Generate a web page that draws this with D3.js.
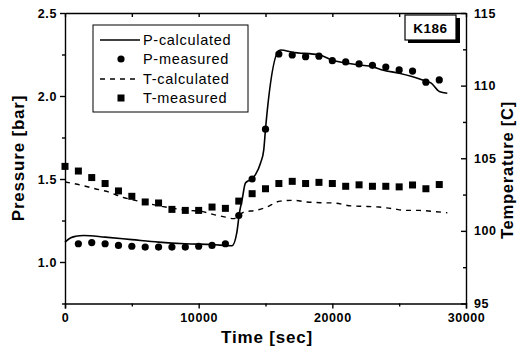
<!DOCTYPE html>
<html><head><meta charset="utf-8">
<script src="https://cdn.jsdelivr.net/npm/d3@7"></script>
<style>
body{margin:0;background:#fff;}
svg{display:block;}
text{font-family:"Liberation Sans",Arial,sans-serif;}
</style></head>
<body>
<svg id="c" width="519" height="357"></svg>
<script>
// ---- data ----
const pCalcTime = [0, 400, 800, 1400, 3000, 5000, 7000, 9000, 11000, 12500, 12850, 13050, 13250, 13500, 13870, 14250, 14630, 14870, 15000, 16000, 16150, 17000, 19000, 20000, 22000, 23000, 23750, 25000, 26750, 27400, 28000, 28600];
const pCalcValue = [1.12, 1.145, 1.155, 1.16, 1.15, 1.135, 1.12, 1.11, 1.105, 1.098, 1.175, 1.296, 1.375, 1.476, 1.496, 1.526, 1.596, 1.676, 1.80, 2.273, 2.277, 2.264, 2.248, 2.217, 2.187, 2.177, 2.157, 2.137, 2.097, 2.077, 2.027, 2.017];

const pMeasTime = [1000, 2000, 3000, 4000, 5000, 6000, 7000, 8000, 9000, 10000, 11000, 12000, 13000, 14000, 15000, 16000, 17000, 18000, 19000, 20000, 21000, 22000, 23000, 24000, 25000, 26000, 27000, 28000];
const pMeasValue = [1.11, 1.117, 1.11, 1.10, 1.095, 1.09, 1.09, 1.09, 1.09, 1.095, 1.10, 1.11, 1.28, 1.50, 1.80, 2.253, 2.247, 2.237, 2.24, 2.213, 2.205, 2.193, 2.185, 2.174, 2.157, 2.15, 2.083, 2.097];

const tCalcTime = [0, 1000, 2250, 3250, 4250, 5250, 6250, 7250, 8250, 9250, 10250, 11000, 12000, 12600, 13400, 14250, 15000, 16100, 17100, 18100, 19100, 20100, 21400, 22400, 23500, 24500, 25500, 26500, 27500, 28600];
const tCalcValue = [103.37, 103.19, 102.9, 102.68, 102.33, 102.1, 101.88, 101.69, 101.53, 101.41, 101.34, 101.15, 100.95, 100.84, 101.3, 101.41, 101.6, 102.05, 102.1, 101.99, 101.94, 101.92, 101.72, 101.69, 101.64, 101.53, 101.41, 101.41, 101.34, 101.25];

const tMeasTime = [0, 1000, 2000, 3000, 4000, 5000, 6000, 7000, 8000, 9000, 10000, 11000, 12000, 13000, 14000, 15000, 16000, 17000, 18000, 19000, 20000, 21000, 22000, 23000, 24000, 25000, 26000, 27000, 28000];
const tMeasValue = [104.44, 104.12, 103.67, 103.26, 102.75, 102.38, 101.99, 101.92, 101.48, 101.41, 101.41, 101.64, 101.55, 102.05, 102.56, 102.9, 103.26, 103.41, 103.26, 103.34, 103.26, 103.07, 103.17, 103.07, 103.07, 103.03, 103.16, 102.9, 103.19];

const xTicks = [0, 10000, 20000, 30000];
const xMinor = [5000, 15000, 25000];
const pTicks = [1.0, 1.5, 2.0, 2.5];
const pMinor = [0.75, 1.25, 1.75, 2.25];
const tTicks = [95, 100, 105, 110, 115];
const tMinor = [97.5, 102.5, 107.5, 112.5];

const legendLabels = ["P-calculated", "P-measured", "T-calculated", "T-measured"];
const tagLabel = "K186";

// ---- layout ----
const L = 65, R = 466, T = 13, B = 303.5;
const svg = d3.select("#c");
const x = d3.scaleLinear().domain([0, 30000]).range([L, R]);
const yP = d3.scaleLinear().domain([0.75, 2.5]).range([B, T]);
const yT = d3.scaleLinear().domain([95, 115]).range([B, T]);

const tickFont = g => g.selectAll("text").attr("font-size", 12.5).attr("font-weight", "bold")
  .attr("letter-spacing", "0.6px").attr("fill", "#000");
const strokeStyle = g => { g.selectAll("line,path").attr("stroke", "#000").attr("stroke-width", 1.4); };

// bottom axis
const gx = svg.append("g").attr("transform", `translate(0,${B})`)
  .call(d3.axisBottom(x).tickValues(xTicks).tickFormat(d3.format("d")).tickSize(5).tickPadding(5));
gx.call(tickFont).call(strokeStyle);
svg.append("g").attr("transform", `translate(0,${B})`)
  .call(d3.axisBottom(x).tickValues(xMinor).tickFormat("").tickSize(3)).call(strokeStyle)
  .select(".domain").remove();
// top frame
svg.append("g").attr("transform", `translate(0,${T})`)
  .call(d3.axisTop(x).tickValues(xTicks.concat(xMinor)).tickFormat("").tickSize(-4).tickSizeOuter(0)).call(strokeStyle);

// left axis
const gl = svg.append("g").attr("transform", `translate(${L},0)`)
  .call(d3.axisLeft(yP).tickValues(pTicks).tickFormat(d3.format(".1f")).tickSize(5).tickPadding(3).tickSizeOuter(0));
gl.call(tickFont).call(strokeStyle);
svg.append("g").attr("transform", `translate(${L},0)`)
  .call(d3.axisLeft(yP).tickValues(pMinor).tickFormat("").tickSize(3)).call(strokeStyle)
  .select(".domain").remove();

// right axis
const gr = svg.append("g").attr("transform", `translate(${R},0)`)
  .call(d3.axisRight(yT).tickValues(tTicks).tickFormat(d3.format("d")).tickSize(-5).tickPadding(8).tickSizeOuter(0));
gr.call(tickFont).call(strokeStyle);
svg.append("g").attr("transform", `translate(${R},0)`)
  .call(d3.axisRight(yT).tickValues(tMinor).tickFormat("").tickSize(-3)).call(strokeStyle)
  .select(".domain").remove();

// axis titles
svg.append("text").attr("x", 267).attr("y", 343).attr("text-anchor", "middle")
  .attr("font-size", 17).attr("font-weight", "bold").attr("letter-spacing", "0.8px").text("Time [sec]");
svg.append("text").attr("transform", `translate(24,158) rotate(-90)`).attr("text-anchor", "middle")
  .attr("font-size", 17).attr("font-weight", "bold").attr("letter-spacing", "0.8px").text("Pressure [bar]");
svg.append("text").attr("transform", `translate(513,170) rotate(-90)`).attr("text-anchor", "middle")
  .attr("font-size", 16.5).attr("font-weight", "bold").attr("letter-spacing", "0.8px").text("Temperature [C]");

// lines
const pLine = d3.line().x((d, i) => x(pCalcTime[i])).y(d => yP(d)).curve(d3.curveMonotoneX);
svg.append("path").datum(pCalcValue).attr("d", pLine).attr("fill", "none").attr("stroke", "#000").attr("stroke-width", 1.6);
const tLine = d3.line().x((d, i) => x(tCalcTime[i])).y(d => yT(d)).curve(d3.curveMonotoneX);
svg.append("path").datum(tCalcValue).attr("d", tLine).attr("fill", "none").attr("stroke", "#000")
  .attr("stroke-width", 1.4).attr("stroke-dasharray", "5,5");

// markers
svg.append("g").selectAll("circle").data(pMeasValue).join("circle")
  .attr("cx", (d, i) => x(pMeasTime[i])).attr("cy", d => yP(d)).attr("r", 3.6).attr("fill", "#000");
const sq = 7;
svg.append("g").selectAll("rect").data(tMeasValue).join("rect")
  .attr("x", (d, i) => x(tMeasTime[i]) - sq / 2).attr("y", d => yT(d) - sq / 2)
  .attr("width", sq).attr("height", sq).attr("fill", "#000");

// legend
const lg = svg.append("g");
lg.append("rect").attr("x", 93).attr("y", 25).attr("width", 155).attr("height", 87)
  .attr("fill", "#fff").attr("stroke", "#000").attr("stroke-width", 1);
const rowY = [40, 59, 79, 98];
lg.append("line").attr("x1", 100).attr("x2", 140).attr("y1", rowY[0]).attr("y2", rowY[0]).attr("stroke", "#000").attr("stroke-width", 1.6);
lg.append("circle").attr("cx", 121).attr("cy", rowY[1]).attr("r", 3.6).attr("fill", "#000");
lg.append("line").attr("x1", 100).attr("x2", 140).attr("y1", rowY[2]).attr("y2", rowY[2]).attr("stroke", "#000").attr("stroke-width", 1.4).attr("stroke-dasharray", "5,5");
lg.append("rect").attr("x", 121 - sq / 2).attr("y", rowY[3] - sq / 2).attr("width", sq).attr("height", sq).attr("fill", "#000");
lg.selectAll("text.lab").data(legendLabels).join("text").attr("class", "lab")
  .attr("x", 143).attr("y", (d, i) => rowY[i]).attr("dy", "0.35em")
  .attr("font-size", 14.5).attr("letter-spacing", "0.7px").attr("fill", "#000").text(d => d);

// tag box with shadow
svg.append("rect").attr("x", 408).attr("y", 18).attr("width", 52).attr("height", 25).attr("fill", "#000");
svg.append("rect").attr("x", 405).attr("y", 15).attr("width", 51).attr("height", 25)
  .attr("fill", "#fff").attr("stroke", "#000").attr("stroke-width", 1.2);
svg.append("text").attr("x", 430.5).attr("y", 28).attr("dy", "0.35em").attr("text-anchor", "middle")
  .attr("font-size", 13.5).attr("font-weight", "bold").attr("letter-spacing", "0.5px").text(tagLabel);
</script>
</body></html>
